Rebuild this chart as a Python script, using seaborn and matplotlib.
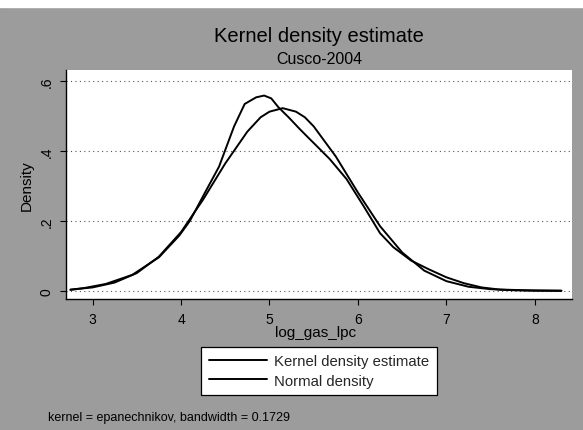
# Kernel density estimate - Cusco 2004 (log_gas_lpc)

import pandas as pd
import matplotlib
matplotlib.use("Agg")
import matplotlib.pyplot as plt
from matplotlib.patches import Rectangle
import seaborn as sns

# ---------------------------
# Data
# ---------------------------
kernel_x = [2.75, 2.9, 3.15, 3.45, 3.75, 3.98, 4.1, 4.28, 4.43, 4.6, 4.72, 4.85,
            4.94, 5.02, 5.1, 5.22, 5.34, 5.45, 5.53, 5.68, 5.87, 6.06, 6.25, 6.4,
            6.6, 6.8, 7.0, 7.2, 7.4, 7.6, 7.9, 8.3]
kernel_y = [0.003, 0.008, 0.020, 0.046, 0.096, 0.158, 0.200, 0.285, 0.355, 0.470, 0.534, 0.553,
            0.558, 0.550, 0.525, 0.495, 0.463, 0.435, 0.415, 0.377, 0.320, 0.244, 0.165, 0.125,
            0.087, 0.062, 0.039, 0.022, 0.010, 0.004, 0.002, 0.001]

normal_x = [2.75, 3.0, 3.25, 3.5, 3.75, 4.0, 4.25, 4.5, 4.75, 4.9, 5.0, 5.15,
            5.3, 5.4, 5.5, 5.75, 6.0, 6.25, 6.5, 6.75, 7.0, 7.25, 7.5, 7.75, 8.0, 8.3]
normal_y = [0.004, 0.010, 0.024, 0.051, 0.098, 0.168, 0.261, 0.364, 0.455, 0.496, 0.512, 0.522,
            0.512, 0.496, 0.470, 0.384, 0.281, 0.185, 0.110, 0.058, 0.028, 0.012, 0.005, 0.002, 0.0005, 0.0001]

x_ticks = [3, 4, 5, 6, 7, 8]
y_ticks = [0, 0.2, 0.4, 0.6]
y_tick_labels = ["0", ".2", ".4", ".6"]

kde_df = pd.DataFrame({"log_gas_lpc": kernel_x, "Density": kernel_y})
norm_df = pd.DataFrame({"log_gas_lpc": normal_x, "Density": normal_y})

# ---------------------------
# Plot
# ---------------------------
sns.set_theme(style="white")
plt.rcParams["font.family"] = ["Liberation Sans", "DejaVu Sans"]

fig = plt.figure(figsize=(5.83, 4.31), dpi=100, facecolor="#9c9c9c")
fig.add_artist(Rectangle((0, 1 - 8 / 431), 1, 8 / 431, transform=fig.transFigure,
                         color="white", zorder=0))
ax = fig.add_axes([66 / 583, 131 / 431, 506 / 583, 229 / 431])
ax.set_facecolor("white")

sns.lineplot(data=kde_df, x="log_gas_lpc", y="Density", ax=ax, color="black",
             linewidth=1.4, label="Kernel density estimate")
sns.lineplot(data=norm_df, x="log_gas_lpc", y="Density", ax=ax, color="black",
             linewidth=1.4, label="Normal density")

ax.set_xlim(2.70, 8.42)
ax.set_ylim(-0.023, 0.631)
ax.set_xticks(x_ticks)
ax.set_yticks(y_ticks)
ax.set_yticklabels(y_tick_labels, rotation=90, va="center")
ax.tick_params(axis="both", direction="out", length=4, width=0.8, color="black",
               labelsize=10, labelcolor="black", pad=5, left=True, bottom=True)

for y in y_ticks:
    ax.axhline(y, color="#555555", linestyle=(0, (1, 3)), linewidth=0.8, zorder=0)

for side in ["top", "right"]:
    ax.spines[side].set_visible(False)
for side in ["left", "bottom"]:
    ax.spines[side].set_color("black")
    ax.spines[side].set_linewidth(1.0)

ax.set_xlabel("")
ax.set_ylabel("Density", fontsize=11, color="black", labelpad=4)

# titles, axis title, note
fig.text(0.547, 1 - 36 / 431, "Kernel density estimate", ha="center", va="center",
         fontsize=14.5, color="black")
fig.text(0.547, 1 - 60 / 431, "Cusco-2004", ha="center", va="center",
         fontsize=11.5, color="black")
fig.text(316 / 583, 1 - 333 / 431, "log_gas_lpc", ha="center", va="center",
         fontsize=11, color="black")
fig.text(48 / 583, 1 - 418 / 431, "kernel = epanechnikov, bandwidth = 0.1729",
         ha="left", va="center", fontsize=9, color="black")

leg = ax.legend(loc="center", bbox_to_anchor=(0.547, 1 - 372 / 431),
                bbox_transform=fig.transFigure, frameon=True, fancybox=False,
                fontsize=10.7, handlelength=3.9, handletextpad=0.5, labelspacing=0.35,
                borderpad=0.5)
leg.get_frame().set_edgecolor("black")
leg.get_frame().set_linewidth(0.9)
leg.get_frame().set_facecolor("white")
leg.get_frame().set_alpha(1)

fig.savefig("out.png", dpi=100, facecolor=fig.get_facecolor())
